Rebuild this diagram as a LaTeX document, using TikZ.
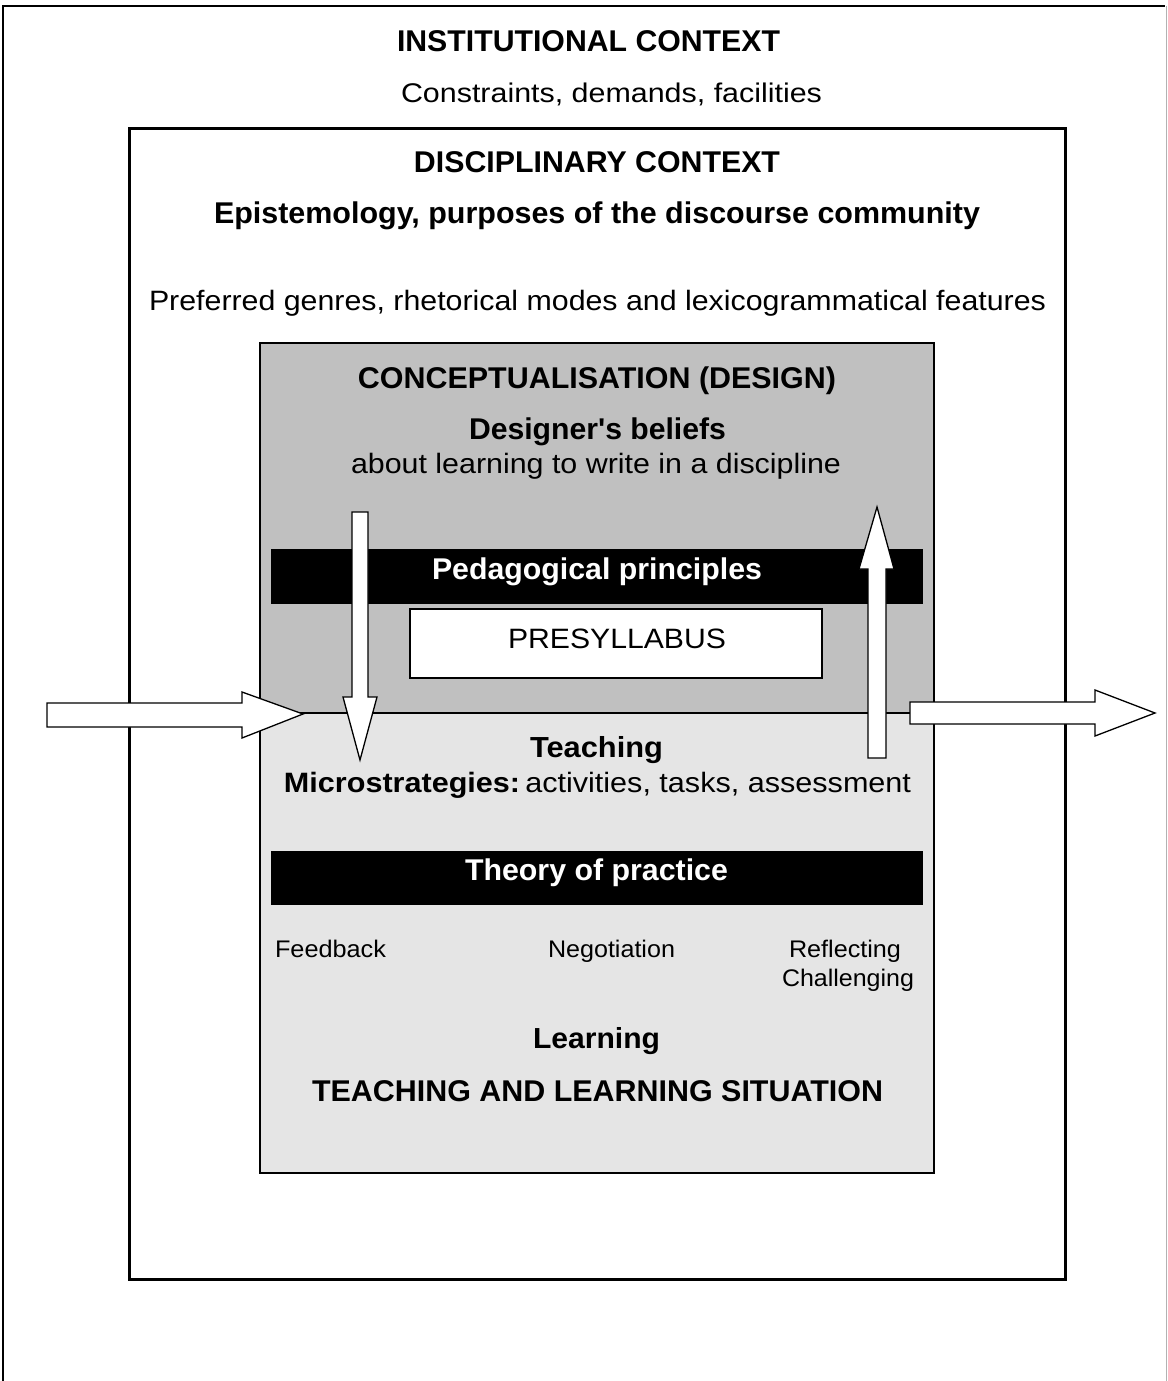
\documentclass[tikz,border=0pt]{standalone}
\usepackage{fontspec}
\setmainfont{Liberation Sans}
\usepackage{graphicx}
\definecolor{darkbox}{HTML}{C0C0C0}
\definecolor{lightbox}{HTML}{E5E5E5}
\newcommand\fitT[3]{\resizebox{#1pt}{\height}{\fontsize{#2}{#2}\selectfont #3}}
\tikzset{
  lbl/.style={anchor=base, inner sep=0pt, outer sep=0pt},
  blockarrow/.style={draw=black, fill=white, line width=1.3pt, line join=miter},
  bar/.style={fill=black, draw=black, line width=0.8pt},
}
\begin{document}
\begin{tikzpicture}[x=1pt,y=-1pt]
\useasboundingbox (0,0) rectangle (1167,1381);
% outer (institutional) frame
\draw[line width=2pt] (3,1395) -- (3,6) -- (1165,6);
\draw[line width=1pt, black!30] (1166,6) -- (1166,1395);
% disciplinary box
\draw[line width=3pt] (129,128) rectangle (1065,1279);
% inner box
\fill[darkbox] (260,343) rectangle (934,713);
\fill[lightbox] (260,713) rectangle (934,1173);
\draw[line width=2pt] (260,713) -- (934,713);
\draw[line width=2pt] (260,343) rectangle (934,1173);
% black bars
\draw[bar] (271,549) rectangle (922,603);
\draw[bar] (271,851) rectangle (922,904);
% presyllabus box
\draw[fill=white, line width=1.5pt] (410,609) rectangle (822,678);

% texts
\node[lbl] (inst) at (588.5,52) {\fitT{383}{30}{\bfseries INSTITUTIONAL CONTEXT}};
\node[lbl] (cons) at (611.5,102) {\fitT{421}{27}{Constraints, demands, facilities}};
\node[lbl] (disc) at (597,172) {\fitT{366}{30}{\bfseries DISCIPLINARY CONTEXT}};
\node[lbl] (epis) at (597,223) {\fitT{766}{30}{\bfseries Epistemology, purposes of the discourse community}};
\node[lbl] (pref) at (597.5,310) {\fitT{897}{28}{Preferred genres, rhetorical modes and lexicogrammatical features}};
\node[lbl] (conc) at (597,388) {\fitT{478}{30}{\bfseries CONCEPTUALISATION (DESIGN)}};
\node[lbl] (bel) at (597.5,439) {\fitT{257}{30}{\bfseries Designer\textquotesingle s beliefs}};
\node[lbl] (abt) at (596,473) {\fitT{490}{28}{about learning to write in a discipline}};
\node[lbl, text=white] (ped) at (597,579) {\fitT{330}{30}{\bfseries Pedagogical principles}};
\node[lbl] (pre) at (617,648) {\fitT{218}{28}{PRESYLLABUS}};
\node[lbl] (teach) at (596.5,757) {\fitT{133}{29}{\bfseries Teaching}};
\node[lbl] (micro) at (597.5,792) {\fitT{627}{28}{\textbf{Microstrategies:}\,activities, tasks, assessment}};
\node[lbl, text=white] (theo) at (596.5,880) {\fitT{263}{30}{\bfseries Theory of practice}};
\node[lbl] (feed) at (330.5,957) {\fitT{111}{24}{Feedback}};
\node[lbl] (neg) at (611.5,957) {\fitT{127}{24}{Negotiation}};
\node[lbl] (refl) at (845,957) {\fitT{112}{24}{Reflecting}};
\node[lbl] (chal) at (848,986) {\fitT{132}{24}{Challenging}};
\node[lbl] (learn) at (596.5,1048) {\fitT{127}{29}{\bfseries Learning}};
\node[lbl] (tls) at (597.5,1101) {\fitT{571}{30}{\bfseries TEACHING AND LEARNING SITUATION}};

% block arrows
% down arrow (design -> teaching)
\draw[blockarrow] (352,512) -- (368,512) -- (368,697) -- (377,697) -- (360,760)
  -- (343,697) -- (352,697) -- cycle;
% up arrow (teaching -> design)
\draw[blockarrow] (868,758) -- (886,758) -- (886,569) -- (894,569) -- (877,507)
  -- (859,569) -- (868,569) -- cycle;
% incoming arrow
\draw[blockarrow] (47,703) -- (242,703) -- (242,692) -- (303,714) -- (242,738)
  -- (242,727) -- (47,727) -- cycle;
% outgoing arrow
\draw[blockarrow] (910,702) -- (1095,702) -- (1095,690) -- (1155,713) -- (1095,736)
  -- (1095,724) -- (910,724) -- cycle;
\end{tikzpicture}
\end{document}
